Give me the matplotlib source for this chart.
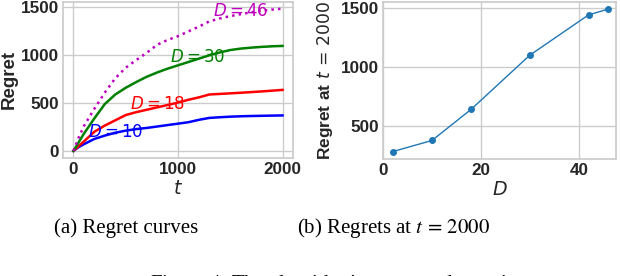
import matplotlib
matplotlib.use("Agg")
import matplotlib.pyplot as plt

# regret curves (a)
t = [0, 50, 100, 200, 300, 400, 500, 600, 700, 800, 900, 1000,
     1100, 1200, 1300, 1400, 1500, 1600, 1700, 1800, 1900, 2000]
reg_d10 = [0, 40, 70, 125, 160, 190, 212, 228, 240, 255, 270, 285,
           300, 325, 345, 352, 358, 362, 365, 367, 369, 371]
reg_d18 = [0, 50, 99, 200, 265, 320, 375, 405, 430, 455, 480, 505,
           535, 560, 590, 596, 602, 608, 615, 622, 630, 638]
reg_d30 = [0, 90, 180, 340, 490, 590, 660, 720, 775, 820, 860, 895,
           930, 965, 1000, 1030, 1055, 1070, 1080, 1088, 1094, 1098]
reg_d46 = [0, 140, 260, 440, 610, 760, 870, 950, 1025, 1110, 1160, 1200,
           1250, 1300, 1355, 1385, 1410, 1430, 1450, 1465, 1478, 1488]

curves = [
    (reg_d10, "blue", "-", "$D=10$", 400, 202),
    (reg_d18, "red", "-", "$D=18$", 800, 500),
    (reg_d30, "green", "-", "$D=30$", 1190, 986),
    (reg_d46, "m", ":", "$D=46$", 1600, 1465),
]

# regret at t = 2000 (b)
D = [2, 10, 18, 30, 42, 46]
final_reg = [281, 375, 639, 1099, 1441, 1490]

plt.rcParams["font.family"] = ["Liberation Sans", "DejaVu Sans"]
plt.rcParams["font.weight"] = "normal"
plt.rcParams["mathtext.fontset"] = "custom"
plt.rcParams["mathtext.rm"] = "DejaVu Sans"
plt.rcParams["mathtext.it"] = "DejaVu Sans:italic"
plt.rcParams["mathtext.bf"] = "Liberation Sans:bold"

grid_c = "#cccccc"
text_c = "#262626"


def style(ax):
    ax.set_facecolor("white")
    for s in ax.spines.values():
        s.set_color(grid_c)
        s.set_linewidth(1.25)
    ax.grid(True, color=grid_c, linewidth=1.0)
    ax.set_axisbelow(True)
    ax.tick_params(length=0, labelsize=12.3, colors=text_c, pad=3)
    for lab in ax.get_xticklabels() + ax.get_yticklabels():
        lab.set_fontweight("bold")


fig = plt.figure(figsize=(6.2, 2.76), dpi=100)

ax1 = fig.add_axes([0.1016, 0.4275, 0.371, 0.567])
for vals, c, ls, lab, tx, ty in curves:
    ax1.plot(t, vals, color=c, linestyle=ls, linewidth=1.8)
    ax1.text(tx, ty, lab, color=c, fontsize=12, ha="center", va="center")
ax1.set_xticks([0, 1000, 2000])
ax1.set_yticks([0, 500, 1000, 1500])
ax1.set_ylabel("Regret", fontsize=13.5, color=text_c, labelpad=2,
               fontweight="bold")
ax1.set_xlabel("$t$", fontsize=13.7, color=text_c, labelpad=2)
style(ax1)

ax2 = fig.add_axes([0.6177, 0.425, 0.3758, 0.5678])
ax2.plot(D, final_reg, color="#1f77b4", marker="o", markersize=4, linewidth=1)
ax2.set_xlim(0, 47.6)
ax2.set_xticks([0, 20, 40])
ax2.set_yticks([500, 1000, 1500])
ax2.set_ylabel(r"$\mathbf{Regret\ at}\ t\,=\,2000$", fontsize=12.4,
               color=text_c, labelpad=4)
ax2.set_xlabel("$D$", fontsize=13.7, color=text_c, labelpad=2)
style(ax2)

cap = dict(family="Liberation Serif", fontsize=15, fontweight="normal",
           math_fontfamily="stix", ha="center", va="baseline")
fig.text(126 / 620, 1 - 233 / 276, "(a) Regret curves", **cap)
fig.text(394 / 620, 1 - 233 / 276, r"(b) Regrets at $t\,=\,2000$", **cap)
fig.text(150 / 620, 1 - 289 / 276,
         "Figure 4: The algorithm's regret under various $D$",
         family="Liberation Serif", fontsize=15, math_fontfamily="stix",
         ha="left", va="baseline")

fig.savefig("out.png", dpi=100)
